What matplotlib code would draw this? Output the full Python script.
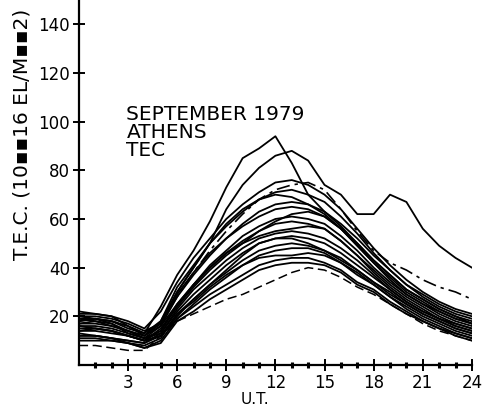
import matplotlib
matplotlib.use("Agg")
import matplotlib.pyplot as plt

# universal time, hours
hours = list(range(25))

# daily TEC curves, September 1979, Athens (units 10**16 el/m**2)
tec_a = [20, 19, 18, 15, 13, 24, 37, 47, 59, 73, 85, 89, 94, 83, 70, 63, 58, 52, 45, 39, 33, 29, 25, 22, 20]
tec_b = [17, 17, 16, 14, 12, 18, 30, 40, 50, 64, 74, 81, 86, 88, 84, 74, 70, 62, 62, 70, 67, 56, 49, 44, 40]
tec_c = [19, 19, 18, 16, 13, 17, 28, 38, 47, 55, 62, 68, 72, 74, 75, 72, 64, 55, 47, 42, 39, 35, 32, 30, 27]
tec_01 = [22, 21, 20, 18, 15, 22, 34, 44, 52, 60, 66, 71, 75, 76, 74, 70, 64, 56, 48, 41, 35, 30, 26, 23, 21]
tec_02 = [18, 19, 18, 16, 13, 18, 32, 41, 50, 57, 63, 68, 71, 72, 70, 67, 61, 54, 46, 39, 33, 28, 24, 21, 19]
tec_03 = [20, 20, 19, 17, 14, 17, 30, 40, 50, 58, 64, 68, 70, 69, 66, 62, 56, 50, 43, 37, 31, 27, 23, 20, 18]
tec_04 = [16, 16, 15, 13, 11, 16, 28, 37, 45, 52, 58, 63, 66, 67, 66, 63, 57, 50, 43, 37, 31, 27, 23, 20, 17]
tec_05 = [19, 18, 16, 14, 12, 17, 29, 38, 46, 52, 57, 61, 64, 65, 64, 61, 56, 49, 42, 36, 30, 26, 22, 19, 17]
tec_06 = [14, 14, 13, 12, 10, 15, 24, 32, 39, 45, 50, 55, 59, 62, 63, 61, 56, 49, 42, 35, 29, 25, 21, 18, 16]
tec_07 = [21, 21, 20, 16, 12, 16, 25, 33, 41, 47, 53, 57, 60, 61, 60, 58, 53, 47, 40, 34, 29, 25, 22, 19, 17]
tec_08 = [15, 15, 14, 12, 10, 14, 24, 33, 40, 46, 51, 55, 58, 59, 58, 56, 51, 45, 39, 33, 28, 24, 20, 17, 15]
tec_09 = [17, 18, 17, 14, 11, 14, 25, 33, 40, 46, 50, 53, 55, 56, 57, 56, 51, 45, 38, 32, 27, 23, 19, 17, 15]
tec_10 = [12, 12, 11, 10, 9, 13, 23, 31, 37, 43, 48, 52, 54, 55, 54, 52, 48, 43, 37, 31, 26, 22, 19, 16, 14]
tec_11 = [18, 19, 17, 13, 11, 13, 22, 29, 35, 41, 46, 50, 52, 53, 52, 50, 46, 41, 36, 31, 26, 22, 19, 16, 14]
tec_12 = [13, 12, 11, 10, 9, 12, 20, 27, 33, 39, 45, 50, 52, 52, 50, 47, 43, 39, 34, 30, 25, 21, 18, 15, 13]
tec_13 = [16, 15, 14, 12, 10, 12, 21, 27, 33, 38, 43, 47, 49, 50, 49, 47, 44, 39, 34, 29, 25, 21, 18, 15, 13]
tec_14 = [10, 10, 10, 9, 8, 11, 21, 26, 32, 37, 41, 45, 47, 48, 48, 46, 42, 37, 33, 28, 24, 20, 17, 14, 12]
tec_15 = [14, 15, 14, 12, 10, 12, 19, 25, 31, 36, 41, 44, 45, 45, 46, 45, 42, 38, 33, 28, 23, 19, 16, 13, 11]
tec_16 = [11, 11, 10, 9, 7, 10, 19, 24, 29, 33, 37, 41, 43, 44, 44, 42, 39, 34, 31, 26, 22, 18, 15, 13, 11]
tec_17 = [12, 12, 11, 9, 7, 9, 18, 22, 27, 31, 35, 39, 41, 42, 42, 41, 38, 33, 30, 25, 21, 18, 15, 12, 10]
tec_18 = [8, 8, 7, 6, 6, 12, 18, 21, 24, 27, 29, 32, 35, 38, 40, 39, 36, 32, 29, 25, 21, 17, 14, 12, 10]

solid_days = [tec_a, tec_b, tec_01, tec_02, tec_03, tec_04, tec_05, tec_06, tec_07,
              tec_08, tec_09, tec_10, tec_11, tec_12, tec_13, tec_14, tec_15, tec_16, tec_17]

y_ticks = [20, 40, 60, 80, 100, 120, 140]
x_ticks = [3, 6, 9, 12, 15, 18, 21, 24]

fig = plt.figure(figsize=(4.87, 4.11), dpi=100)
ax = fig.add_axes([0.162, 0.112, 0.807, 0.888])

for day in solid_days:
    ax.plot(hours, day, color='black', lw=1.3)
ax.plot(hours, tec_c, color='black', lw=1.2, dashes=(8, 3, 2, 3))
ax.plot(hours, tec_18, color='black', lw=1.1, dashes=(6, 3))

ax.set_xlim(0, 24)
ax.set_ylim(0, 150)
for side in ['top', 'right']:
    ax.spines[side].set_visible(False)
for side in ['left', 'bottom']:
    ax.spines[side].set_linewidth(1.6)

ax.set_yticks(y_ticks)
ax.set_xticks(x_ticks)
ax.set_xticks(range(1, 24), minor=True)
ax.tick_params(axis='both', which='major', direction='inout', length=9, width=1.4,
               labelsize=12, pad=2)
ax.tick_params(axis='x', which='minor', direction='inout', length=4, width=2.2)

ax.text(2.9, 107, 'SEPTEMBER 1979\nATHENS\nTEC', fontsize=14.5, ha='left', va='top',
        linespacing=0.95)

fig.text(0.045, 0.672, 'T.E.C. (10\u25aa\u25aa16 EL/M\u25aa\u25aa2)', rotation=90,
         fontsize=14.5, ha='center', va='center')
fig.text(0.524, 0.027, 'U.T.', fontsize=11, ha='center', va='center')

fig.savefig('out.png', dpi=100, facecolor='white')
